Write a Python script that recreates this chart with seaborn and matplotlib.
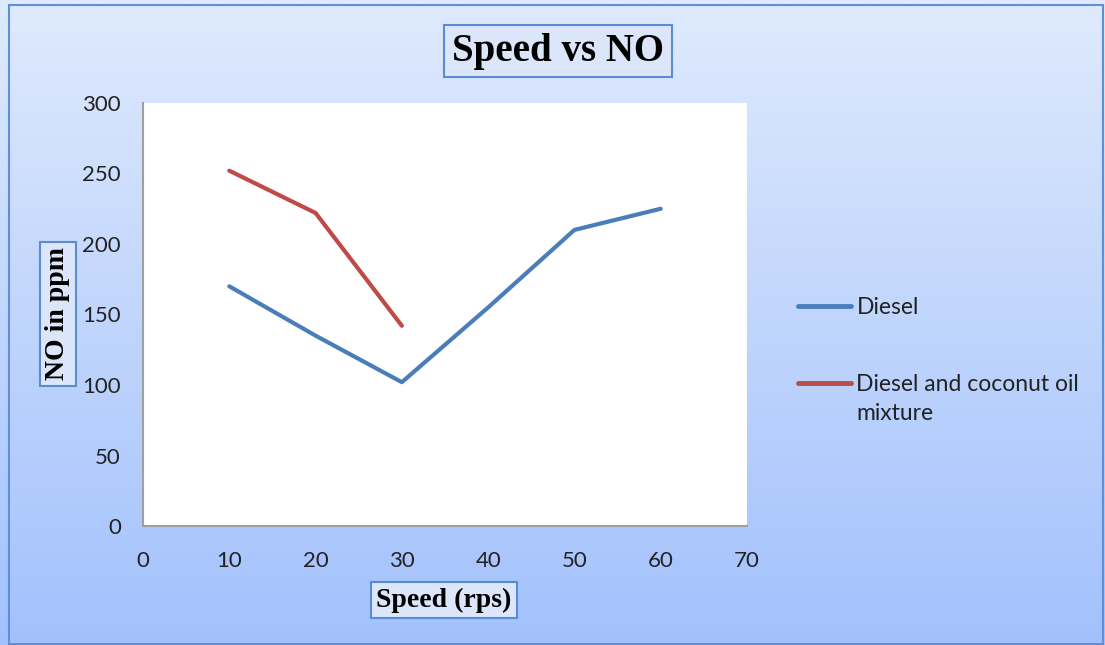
import numpy as np
import pandas as pd
import matplotlib
matplotlib.use("Agg")
import matplotlib.pyplot as plt
import seaborn as sns
from matplotlib.patches import Rectangle
from matplotlib.lines import Line2D

# ---- data ----
speed_diesel = [10, 20, 30, 40, 50, 60]
no_diesel = [170, 135, 102, 155, 210, 225]
speed_mix = [10, 20, 30]
no_mix = [252, 222, 142]
series_names = ["Diesel", "Diesel and coconut oil mixture"]
x_ticks = [0, 10, 20, 30, 40, 50, 60, 70]
y_ticks = [0, 50, 100, 150, 200, 250, 300]

df = pd.concat([
    pd.DataFrame({"Speed": speed_diesel, "NO": no_diesel, "Series": series_names[0]}),
    pd.DataFrame({"Speed": speed_mix, "NO": no_mix, "Series": series_names[1]}),
], ignore_index=True)

sns.set_theme(style="white")
plt.rcParams["font.family"] = ["Lato", "DejaVu Sans"]

W, H = 1105, 645
fig = plt.figure(figsize=(W / 100, H / 100), dpi=100)

# gradient background
bg = fig.add_axes([0, 0, 1, 1], zorder=-10)
grad = np.linspace(0, 1, 256).reshape(-1, 1)
top = np.array([0xdf, 0xea, 0xfc]) / 255
bot = np.array([0xa2, 0xc1, 0xfd]) / 255
img = top[None, None, :] * (1 - grad[:, :, None]) + bot[None, None, :] * grad[:, :, None]
bg.imshow(img, aspect="auto", extent=[0, 1, 0, 1], origin="upper")
bg.set_xlim(0, 1)
bg.set_ylim(0, 1)
bg.axis("off")
bg.add_patch(Rectangle((9 / W, 0.002), 1 - 9 / W - 0.002, 1 - 5 / H - 0.002,
                       fill=False, edgecolor="#5f8fd6", linewidth=1.5,
                       transform=bg.transAxes))

left, right = 143 / W, 747 / W
bottom, topy = 1 - 526 / H, 1 - 103 / H
ax = fig.add_axes([left, bottom, right - left, topy - bottom])
ax.set_facecolor("white")

palette = {series_names[0]: "#4a7ebb", series_names[1]: "#be4b48"}
sns.lineplot(data=df, x="Speed", y="NO", hue="Series", palette=palette,
             linewidth=3, ax=ax, legend=False)

ax.set_xlim(0, 70)
ax.set_ylim(0, 300)
ax.set_xticks(x_ticks)
ax.set_yticks(y_ticks)
ax.tick_params(axis="x", length=0, labelsize=16, colors="#222222", pad=18)
ax.tick_params(axis="y", length=0, labelsize=16, colors="#222222", pad=16)
for s in ["top", "right"]:
    ax.spines[s].set_visible(False)
for s in ["left", "bottom"]:
    ax.spines[s].set_color("#a0a0a0")
    ax.spines[s].set_linewidth(1.5)
ax.set_xlabel("")
ax.set_ylabel("")

def box(pad):
    return dict(boxstyle=f"square,pad={pad}", facecolor="#dbe6fb",
                edgecolor="#5b8bd0", linewidth=1.5)

fig.text(558 / W, 1 - 51 / H, "Speed vs NO", ha="center", va="center",
         fontsize=28, fontweight="bold", family=["Liberation Serif"], color="black", bbox=box(0.2))
fig.text(444 / W, 1 - 600 / H, "Speed (rps)", ha="center", va="center",
         fontsize=20, fontweight="bold", family=["Liberation Serif"], color="black", bbox=box(0.2))
fig.text(58 / W, 1 - 314 / H, "NO in ppm", ha="center", va="center", rotation=90,
         fontsize=20, fontweight="bold", family=["Liberation Serif"], color="black", bbox=box(0.2))

# legend
handles = [Line2D([0], [0], color=palette[n], linewidth=3.5) for n in series_names]
leg_labels = ["Diesel", "Diesel and coconut oil"]
leg = fig.legend(handles, leg_labels, loc="upper left", bbox_to_anchor=(798 / W, 1 - 297 / H),
                 frameon=False, fontsize=16.5, handlelength=2.3, handletextpad=0.25,
                 labelspacing=2.45, borderaxespad=0, borderpad=0)
for t in leg.get_texts():
    t.set_color("#222222")
fig.text(856 / W, 1 - 414 / H, "mixture", ha="left", va="center",
         fontsize=16.5, color="#222222")

fig.savefig("out.png", dpi=100)
